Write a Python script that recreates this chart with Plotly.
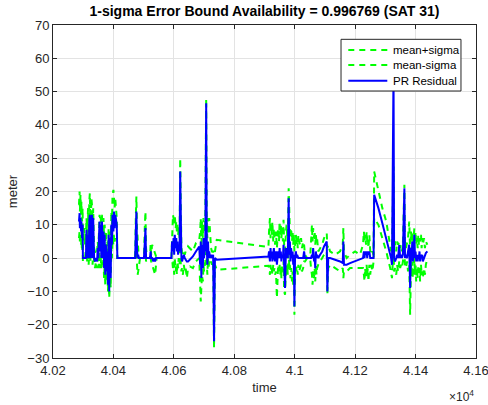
import plotly.graph_objects as go

# time (s)
time = [40286, 40288, 40289, 40291, 40293, 40294, 40296, 40298, 40299,
        40303, 40306, 40309, 40311, 40313, 40316, 40318, 40320, 40322, 40324,
        40327, 40329, 40331, 40333, 40336, 40339, 40342, 40346, 40348, 40350,
        40352, 40354, 40356, 40358, 40360, 40362, 40365, 40367, 40369, 40371,
        40373, 40375, 40378, 40380, 40382, 40384, 40386, 40389, 40391, 40393,
        40395, 40397, 40400, 40402, 40404, 40406, 40408, 40411, 40413,
        40472, 40474, 40476, 40478, 40480, 40482, 40484, 40488, 40501, 40504,
        40506, 40508, 40511, 40521, 40523, 40525, 40528, 40532, 40535, 40538,
        40541, 40543,
        40592, 40594, 40597, 40599, 40601, 40603, 40606, 40608, 40610, 40612,
        40614, 40616, 40619, 40621, 40623, 40625, 40627, 40630, 40633, 40636,
        40639, 40643, 40647, 40653, 40663, 40673, 40684,
        40687, 40689, 40691, 40693, 40696, 40698, 40700, 40702, 40704, 40707,
        40709, 40711, 40713, 40715, 40717, 40720, 40723, 40726, 40730, 40733,
        40736, 40742, 40913,
        40915, 40918, 40920, 40922, 40924, 40926, 40929, 40931, 40933, 40935,
        40938, 40941, 40943, 40945, 40948, 40950, 40952, 40954, 40956, 40958,
        40961, 40963, 40965, 40968, 40971, 40973, 40975, 40977, 40980, 40982,
        40984, 40986, 40988, 40991, 40993, 40995, 40997, 40999, 41001, 41004,
        41006, 41008, 41010, 41012, 41014, 41018, 41021, 41024, 41028, 41031,
        41034, 41041, 41051, 41054, 41057, 41059, 41061, 41064, 41066, 41068,
        41070, 41072, 41074, 41078, 41084, 41091, 41097, 41106, 41108, 41111,
        41117, 41134, 41150, 41159, 41161, 41163, 41172, 41183, 41200, 41216,
        41226, 41229, 41231, 41233, 41236, 41238, 41240, 41242, 41244, 41247,
        41250, 41253, 41257, 41261,
        41263, 41277, 41290, 41303, 41316, 41319, 41322, 41327,
        41329, 41332, 41336, 41339, 41342, 41346, 41349, 41352, 41355, 41358,
        41363, 41365, 41368, 41372, 41375, 41379, 41382, 41385, 41387, 41389,
        41391, 41394, 41396, 41398, 41400, 41402, 41404, 41407, 41409, 41411,
        41413, 41415, 41418, 41420, 41422, 41424, 41428, 41431, 41434, 41439]

# PR residual (m)
pr_residual = [11, 13.5, 9, 12, 8, 11, 6, 10, 0,
               0, 0, 0, 8.5, 0, 7, 0, 11, 13, 0,
               12.5, 13, 0, 12, 0, -1, 0, -1, 3, 0,
               6, 11, 2, 10, 0, 11, 0, 8, -3, 7,
               -5, 4, -4, 2, -8, 7, -10, 6, -6, 10,
               4, 13, 8, 14, 9, 13, 12, 10, 0,
               0, 8, 14, 3, 0, 1, 0, 0, 0, 5,
               9, 0, 0, 0, 2, 0, 0, -1, 0, -1,
               0, 0,
               0, 5, 2, 6, 1, 7, 3, 6, 2, 5,
               1, 4, 2, 26, 1, 0, -1, 0, 1, 0,
               -0.5, -1, -1, -0.5, 0.5, 2, 3.5,
               -2, 5, -6, 4, -3, 6, 0, 3, 2, 46.5,
               3, -2, 5, 0, 2, 0, 1, 0, 1, -25,
               0, -0.5, 0.5,
               2, -1, 3, 0, 2, -1, 1, 3, 0, -1,
               2, -2, 0, 2, 0, 3, 0, 2, -1, 1,
               0, 4, -2, -9, 3, 0, 2, 0, 18, 1,
               5, -1, 3, 0, 2, -2, 1, -14.5, 0, 2,
               0, 1, 0, 0, 0, 0, 0, 0, 0, 2,
               0, 0, 0, 0, 1, 0, 3, -1, 0, -3,
               2, 0, 1, 0, 1, 2, 3.5, 5, -10, 0,
               0, -0.5, -1, -1.5, 5, -2, -2, -1.5, -1, -0.5,
               0, 2, 0, 2, 1, 2, 0, 2, 1, 2,
               0, 0, 0, 0,
               19, 15, 10.5, 6, 1, 0, -2, 56,
               0, -1, 0, 1, 0, 4, 0, 1, 0, 1,
               21, 0, 1, 0, 2, 4, -9, 3, 0, 5,
               -1, 2, 7, 0, 2, -1, 1, -1, 1, 0,
               2, -1, 1, 0, 1, -1, 0, 1, 1.5, 2]

# mean + sigma (m)
mean_plus_sigma = [16, 20, 14, 19, 13, 17, 11, 15, 3,
                   9, 4, 7, 12, 6, 15, 4, 17, 19.5, 5,
                   18, 16, 4, 15, 3, 2, 1, 2, 5, 2,
                   9, 13, 12, 13, 6, 13, 4, 12, 6, 10,
                   3, 8, 1, 5, -2, 9, -4, 8, 0, 14,
                   10, 19, 20.5, 17, 15, 18, 14, 12, 0,
                   0, 12, 18.5, 9, 4, 2, 0, 0, 0, 10,
                   14, 3, 0, 0, 4, 1, 4, 3, 2, 1,
                   0, 0,
                   0, 9, 13, 12, 10, 13, 9, 11, 8, 10,
                   7, 9, 6, 30, 5, 3, 2, 1, 2, 1,
                   2, 2.5, 3.5, 3, 2, 4.5, 5.5,
                   8, 12, 3, 11, 6, 12, 10, 8, 11, 48,
                   9, 6, 12, 7, 12, 5, 3, 2, 2, 1,
                   2, 5.5, 3.3,
                   8, 12, 6, 10, 7, 11, 5, 9, 6, 4,
                   8, 3, 6, 9, 5, 11, 7, 10, 6, 9,
                   5, 11.5, 4, 2, 8, 10, 7, 6, 21, 9,
                   8, 6, 9, 5, 8, 4, 7, 2, 5, 7,
                   4, 6, 3, 7, 5, 4, 6, 3, 5, 4,
                   1, 0, 0, 7, 10, 5, 9, 6, 8, 4,
                   7, 5, 6, 2, 3, 4, 6, 7.5, 3, 4,
                   2, 1, 2, 4, 9, 2, 0, 1, 2, 1,
                   4, 8, 5, 7, 4, 8, 5, 6, 3, 7,
                   2, 1, 2, 1,
                   26, 20, 15, 11, 4, 2, 3, 27.5,
                   3, 5, 2, 5, 4, 5, 3, 4, 2, 4,
                   22, 4, 3, 5, 6, 11, 2, 8, 5, 8,
                   4, 7, 9, 5, 8, 4, 6, 3, 7, 4,
                   6, 5, 7, 3, 6, 4, 6, 3, 5, 4]

# mean - sigma (m)
mean_minus_sigma = [6, 8, 5, 7, 4, 6, 2, 5, -1,
                    -1, 0, 2, 5, -1, 3, -2, 4, 6, -1,
                    5, 6, -2, 4, -1, -3, -1, -3, 0, -2,
                    -3, 2, -3, 0, -3, 1, -2, 0, -6, -2,
                    -8, -4, -7, -3, -10, -3, -12, -6, -9, 3,
                    0, 6, 4, 7, 5, 6, 5, 4, 0,
                    0, 2, 6, -2, -5, -4, -2, 0, 0, 0,
                    2, -1, 0, 0, 0, -1, -2, -3, -4, -5,
                    -2, 0,
                    0, 0, -3, -1, -5, 0, -4, -2, -5, -1,
                    -3, 0, -2, 4, -2, -4, -3, -5, -2, -4,
                    -3, -6, -3, -2.5, -3, -1, 0,
                    -8, -13, -9, -5, -7, -2, -4, -3, -1, 2,
                    -2, -5, 0, -3, -1, -2, -1, -2, -1, -27,
                    -2, -3.5, -2.3,
                    -3, -5, -2, -4, -3, -5, -2, -4, -3, -5,
                    -4, -12, -3, -2, -4, -2, -5, -3, -6, -2,
                    -4, -1, -10, -11, -3, -4, -2, -5, 3, -3,
                    -2, -6, -3, -7, -4, -8, -3, -17, -3, -2,
                    -4, -3, -5, -2, -4, -3, -2, -4, -3, -1,
                    -1, 0, 0, -3, -5, -8, -4, -6, -3, -7,
                    -2, -5, -3, -2, -1, 0, 1, 2, -11, -3,
                    -2, -3, -4, -3, -6, -4, -4, -3, -3, -3,
                    -3, -5, -7, -3, -6, -2, -5, -3, -7, -2,
                    -5, -2, -4, -1,
                    12, 10, 6, 2, -3, -5, -6, 3,
                    -4, -3, -5, -2, -4, -1, -3, -2, -3, -1,
                    2, -2, -3, -1, -4, -2, -17, -2, -5, -1,
                    -6, -3, 0, -5, -2, -7, -3, -6, -2, -5,
                    -3, -7, -2, -5, -4, -6, -3, -5, -2, 0]

x_tick_vals = [40200, 40400, 40600, 40800, 41000, 41200, 41400, 41600]
x_tick_text = ["4.02", "4.04", "4.06", "4.08", "4.1", "4.12", "4.14", "4.16"]
y_tick_vals = [-30, -20, -10, 0, 10, 20, 30, 40, 50, 60, 70]

series_names = ["mean+sigma", "mean-sigma", "PR Residual"]
green = "#00ff00"
blue = "#0000ff"
series_colors = [green, green, blue]
series_dash = ["6px,5px", "6px,5px", "solid"]
axis_col = "#262626"
font = "Liberation Sans, Arial, Helvetica, sans-serif"

fig = go.Figure()
for name, ys, col, dsh in zip(series_names, [mean_plus_sigma, mean_minus_sigma, pr_residual],
                              series_colors, series_dash):
    fig.add_trace(go.Scatter(x=time, y=ys, mode="lines", name=name, showlegend=False,
                             line=dict(color=col, width=2, dash=dsh)))

axis_common = dict(showline=True, linecolor=axis_col, linewidth=1, mirror="ticks",
                   ticks="inside", ticklen=4, tickcolor=axis_col, automargin=False,
                   ticklabeloverflow="allow",
                   showgrid=True, gridcolor="#e3e3e3", gridwidth=1, zeroline=False,
                   tickfont=dict(family=font, size=13, color=axis_col))

# legend box (MATLAB style, drawn in paper coordinates)
lx0, lx1, ly0, ly1 = 0.6809, 0.9645, 0.8018, 0.957
line_x0, line_x1, text_x = 0.6981, 0.7903, 0.7991
row_y = [0.9249, 0.8799, 0.8327]
shapes = [dict(type="rect", xref="paper", yref="paper", x0=lx0, x1=lx1, y0=ly0, y1=ly1,
               fillcolor="white", line=dict(color=axis_col, width=1), layer="above")]
annotations = []
for name, col, dsh, ry in zip(series_names, series_colors, series_dash, row_y):
    shapes.append(dict(type="line", xref="paper", yref="paper", x0=line_x0, x1=line_x1,
                       y0=ry, y1=ry, line=dict(color=col, width=2, dash=dsh), layer="above"))
    annotations.append(dict(text=name, x=text_x, y=ry, xref="paper", yref="paper",
                            xanchor="left", yanchor="middle", showarrow=False,
                            font=dict(family=font, size=11.5, color="black")))
annotations.append(dict(text="×10<sup>4</sup>", x=1, y=-0.114, xref="paper", yref="paper",
                        xanchor="right", yanchor="middle", showarrow=False,
                        font=dict(family=font, size=12, color=axis_col)))

fig.update_layout(
    width=488, height=405,
    margin=dict(l=53, r=12, t=25, b=47),
    paper_bgcolor="white", plot_bgcolor="white",
    title=dict(text="<b>1-sigma Error Bound Availability = 0.996769 (SAT 31)</b>",
               x=0.5, xref="paper", xanchor="center", y=1 - 11 / 405, yanchor="middle",
               font=dict(family=font, size=14, color="black")),
    xaxis=dict(range=[40200, 41600], tickvals=x_tick_vals, ticktext=x_tick_text,
               title=dict(text="time", font=dict(family=font, size=13, color=axis_col), standoff=6),
               **axis_common),
    yaxis=dict(range=[-30, 70], tickvals=y_tick_vals,
               title=dict(text="meter", font=dict(family=font, size=13, color=axis_col), standoff=6),
               **axis_common),
    showlegend=False,
    shapes=shapes,
    annotations=annotations,
)

fig.write_html("out.html", config={"displayModeBar": False},
               post_script="document.body.style.margin='0';")
